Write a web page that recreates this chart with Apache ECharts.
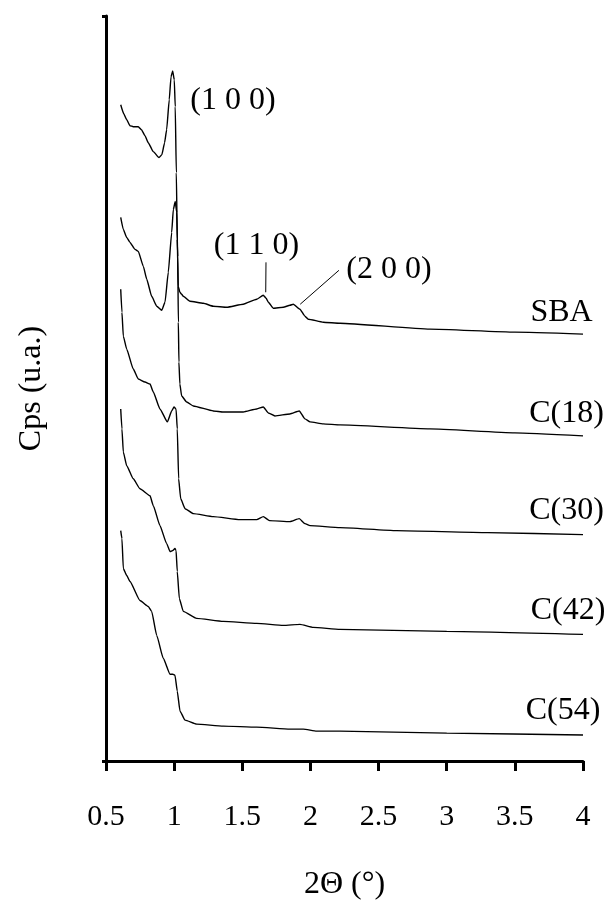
<!DOCTYPE html>
<html><head><meta charset="utf-8">
<script src="https://cdn.jsdelivr.net/npm/echarts@6/dist/echarts.min.js"></script>
<style>html,body{margin:0;padding:0;background:#fff}#c{width:607px;height:906px}</style>
</head><body><div id="c"></div>
<script>
const xTicks = [0.5, 1, 1.5, 2, 2.5, 3, 3.5, 4];
const seriesNames = ['SBA', 'C(18)', 'C(30)', 'C(42)', 'C(54)'];
const peakNames = ['(1 0 0)', '(1 1 0)', '(2 0 0)'];

const sbaData = [[0.608,658],[0.630,649],[0.652,643],[0.676,637],[0.700,636],[0.737,636],[0.760,633],[0.786,627],[0.810,620],[0.847,611],[0.889,605],[0.910,608],[0.930,620],[0.945,633],[0.964,663],[0.977,686],[0.989,692],[1.001,683],[1.008,656],[1.016,590],[1.023,523],[1.030,476],[1.042,470],[1.055,468],[1.067,466],[1.116,461],[1.214,459],[1.287,456],[1.386,455],[1.507,458],[1.606,463],[1.654,467],[1.675,464],[1.691,460],[1.727,454],[1.801,455],[1.850,457],[1.874,458],[1.923,453],[1.960,446],[1.984,443],[2.094,440],[2.217,439],[2.877,433],[3.5,430],[4.0,428]];
const c18Data = [[0.608,545],[0.627,533],[0.652,525],[0.676,520],[0.713,513],[0.737,511],[0.774,496],[0.799,483],[0.835,466],[0.872,456],[0.909,452],[0.933,460],[0.957,490],[0.982,530],[0.994,553],[1.008,561],[1.019,550],[1.026,506],[1.031,440],[1.035,400],[1.042,378],[1.055,366],[1.092,360],[1.141,356],[1.287,351],[1.361,350],[1.507,350],[1.606,353],[1.654,355],[1.691,349],[1.740,346],[1.850,348],[1.918,351],[1.960,343],[1.997,340],[2.094,338],[2.217,337],[2.877,333],[3.5,329],[4.0,326]];
const c30Data = [[0.608,473],[0.617,450],[0.627,426],[0.652,413],[0.700,393],[0.737,383],[0.786,380],[0.823,378],[0.847,370],[0.896,353],[0.950,340],[0.982,351],[0.999,355],[1.014,353],[1.023,333],[1.033,283],[1.048,263],[1.080,253],[1.141,248],[1.287,245],[1.483,242],[1.606,242],[1.654,245],[1.700,241],[1.850,240],[1.918,243],[1.960,238],[1.997,236],[2.217,234],[2.633,231],[3.3,229],[4.0,227]];
const c42Data = [[0.608,353],[0.617,333],[0.627,310],[0.652,296],[0.700,283],[0.749,273],[0.823,266],[0.847,256],[0.896,236],[0.945,218],[0.970,210],[0.990,211],[1.006,213],[1.014,211],[1.023,190],[1.038,163],[1.067,150],[1.165,143],[1.361,140],[1.606,138],[1.801,136],[1.923,137],[2.021,134],[2.217,132],[3.0,130],[4.0,127]];
const c54Data = [[0.608,231],[0.617,223],[0.627,193],[0.652,186],[0.676,180],[0.749,161],[0.810,155],[0.835,150],[0.872,126],[0.920,103],[0.970,87],[0.990,87],[1.006,86],[1.023,70],[1.043,50],[1.080,41],[1.165,37],[1.361,35],[1.606,34],[1.850,32],[1.948,32],[2.046,30],[2.217,30],[3.0,28],[4.0,26]];
const allData = [sbaData, c18Data, c30Data, c42Data, c54Data];

const FONT = 'Liberation Serif';
const tickTxt = {color: '#000', fontFamily: FONT, fontSize: 30};
const txt = {color: '#000', fontFamily: FONT, fontSize: 32};

function labelPoint(name, coord) {
  return {name: name, coord: coord, symbol: 'circle', symbolSize: 1,
    itemStyle: {color: 'rgba(0,0,0,0)'},
    label: Object.assign({show: true, position: 'inside', formatter: name}, txt)};
}

const series = allData.map((d, i) => ({
  name: seriesNames[i], type: 'line', data: d, showSymbol: false, symbol: 'none',
  lineStyle: {color: '#000', width: 1.4}, smooth: 0.15, smoothMonotone: 'x', silent: true
}));

series[0].markLine = {
  silent: true, symbol: 'none', label: {show: false},
  lineStyle: {color: '#000', width: 1, type: 'solid'},
  data: [
    [{coord: [1.674, 500]}, {coord: [1.672, 470]}],
    [{coord: [2.209, 492]}, {coord: [1.925, 458]}]
  ]
};
series[0].markPoint = {
  silent: true,
  data: [
    labelPoint(peakNames[0], [1.432, 662]),
    labelPoint(peakNames[1], [1.604, 517]),
    labelPoint(peakNames[2], [2.576, 493]),
    labelPoint(seriesNames[0], [3.843, 450]),
    labelPoint(seriesNames[1], [3.879, 348]),
    labelPoint(seriesNames[2], [3.879, 251]),
    labelPoint(seriesNames[3], [3.890, 151]),
    labelPoint(seriesNames[4], [3.853, 51])
  ]
};

const chart = echarts.init(document.getElementById('c'), null, {renderer: 'canvas'});
chart.setOption({
  animation: false,
  backgroundColor: '#fff',
  grid: {left: 106, right: 24, top: 16, bottom: 143, containLabel: false},
  xAxis: {
    type: 'value', min: xTicks[0], max: xTicks[xTicks.length - 1], interval: 0.5,
    name: '2Θ (°)', nameLocation: 'middle', nameGap: 108,
    nameTextStyle: txt,
    axisLine: {show: true, onZero: false, lineStyle: {color: '#000', width: 3}},
    axisTick: {show: true, inside: false, length: 10, lineStyle: {color: '#000', width: 3}},
    axisLabel: Object.assign({margin: 41, formatter: v => String(v)}, tickTxt),
    splitLine: {show: false}
  },
  yAxis: {
    type: 'value', min: 0, max: 747, interval: 747,
    name: 'Cps (u.a.)', nameLocation: 'middle', nameGap: 58, nameRotate: 90,
    nameTextStyle: txt,
    axisLine: {show: true, onZero: false, lineStyle: {color: '#000', width: 3}},
    axisTick: {show: true, inside: false, length: 4, lineStyle: {color: '#000', width: 3}},
    axisLabel: {show: false},
    splitLine: {show: false}
  },
  series: series
});
</script>
</body></html>
